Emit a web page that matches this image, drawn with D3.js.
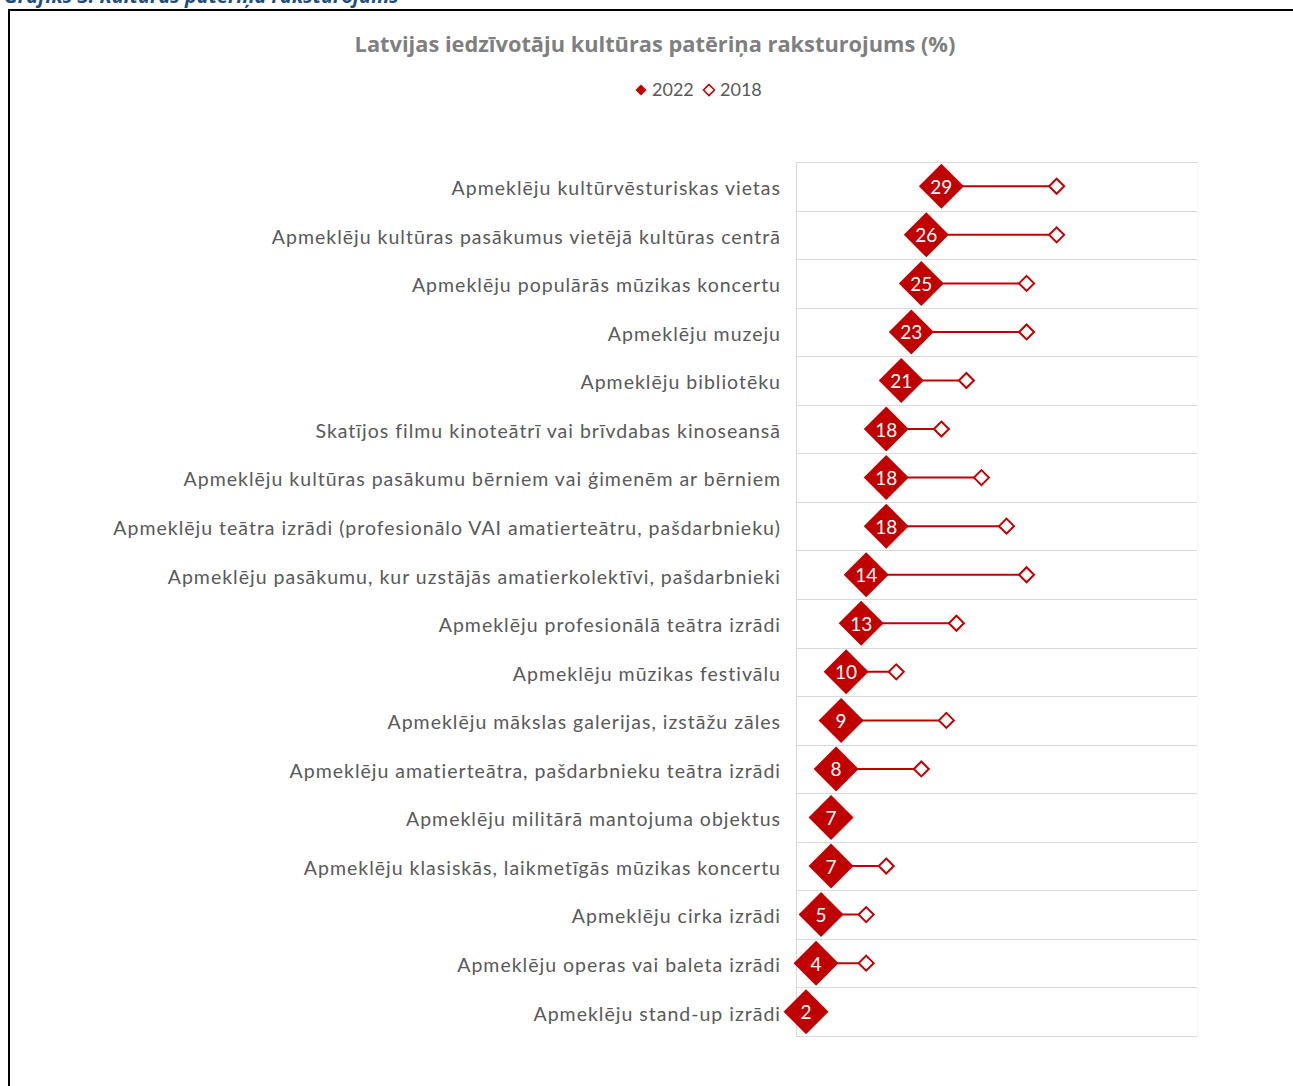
<!DOCTYPE html>
<html>
<head>
<meta charset="utf-8">
<script src="https://cdn.jsdelivr.net/npm/d3@7"></script>
<style>
  body { margin: 0; background: #fff; }
  svg { display: block; }
</style>
</head>
<body>
<div id="chart"></div>
<script>
let categories = [
    "Apmeklēju kultūrvēsturiskas vietas",
    "Apmeklēju kultūras pasākumus vietējā kultūras centrā",
    "Apmeklēju populārās mūzikas koncertu",
    "Apmeklēju muzeju",
    "Apmeklēju bibliotēku",
    "Skatījos filmu kinoteātrī vai brīvdabas kinoseansā",
    "Apmeklēju kultūras pasākumu bērniem vai ģimenēm ar bērniem",
    "Apmeklēju teātra izrādi (profesionālo VAI amatierteātru, pašdarbnieku)",
    "Apmeklēju pasākumu, kur uzstājās amatierkolektīvi, pašdarbnieki",
    "Apmeklēju profesionālā teātra izrādi",
    "Apmeklēju mūzikas festivālu",
    "Apmeklēju mākslas galerijas, izstāžu zāles",
    "Apmeklēju amatierteātra, pašdarbnieku teātra izrādi",
    "Apmeklēju militārā mantojuma objektus",
    "Apmeklēju klasiskās, laikmetīgās mūzikas koncertu",
    "Apmeklēju cirka izrādi",
    "Apmeklēju operas vai baleta izrādi",
    "Apmeklēju stand-up izrādi"
];
let values2022 = [29, 26, 25, 23, 21, 18, 18, 18, 14, 13, 10, 9, 8, 7, 7, 5, 4, 2];
let values2018 = [52, 52, 46, 46, 34, 29, 37, 42, 46, 32, 20, 30, 25, null, 18, 14, 14, null];
let seriesNames = ["2022", "2018"];

let red = "#c00000";
let width = 1293, height = 1086;

let svg = d3.select("#chart").append("svg")
    .attr("width", width)
    .attr("height", height);

// report caption, cut off by the top edge
svg.append("text")
    .attr("x", 4).attr("y", 3)
    .attr("font-family", "Open Sans, sans-serif")
    .attr("font-size", 20).attr("font-weight", "bold").attr("font-style", "italic")
    .attr("fill", "#1f4e79")
    .text("Grafiks 3. Kultūras patēriņa raksturojums");

// frame
svg.append("path")
    .attr("d", "M9," + height + " V10 H" + width)
    .attr("fill", "none").attr("stroke", "#000").attr("stroke-width", 2);

svg.append("text")
    .attr("x", 655).attr("y", 52)
    .attr("text-anchor", "middle")
    .attr("font-family", "Open Sans, sans-serif")
    .attr("font-size", 21.8).attr("font-weight", "bold")
    .attr("fill", "#7f7f7f")
    .text("Latvijas iedzīvotāju kultūras patēriņa raksturojums (%)");

// legend
let legend = svg.append("g").attr("font-family", "Lato, sans-serif").attr("font-size", 18).attr("fill", "#595959");
let diamond = r => "M0," + (-r) + "L" + r + ",0L0," + r + "L" + (-r) + ",0Z";
legend.append("path").attr("d", diamond(5.5)).attr("transform", "translate(641,90)").attr("fill", red);
legend.append("text").attr("x", 652).attr("y", 96).text(seriesNames[0]);
legend.append("path").attr("d", diamond(5.5)).attr("transform", "translate(709,90)")
    .attr("fill", "#fff").attr("stroke", red).attr("stroke-width", 1.6);
legend.append("text").attr("x", 720).attr("y", 96).text(seriesNames[1]);

let x = d3.scaleLinear().domain([0, 80]).range([796, 1197]);
let y = d3.scaleBand().domain(categories).range([162, 1036]);

// grid
let grid = svg.append("g").attr("stroke", "#d9d9d9").attr("stroke-width", 1);
let edges = categories.map(c => y(c)).concat([y.range()[1]]);
grid.selectAll("line.h").data(edges).enter().append("line")
    .attr("x1", x.range()[0]).attr("x2", x.range()[1])
    .attr("y1", d => Math.round(d) + 0.5).attr("y2", d => Math.round(d) + 0.5);
grid.append("line").attr("x1", 796.5).attr("x2", 796.5).attr("y1", 162).attr("y2", 1036);
grid.append("line").attr("x1", 1197.5).attr("x2", 1197.5).attr("y1", 162).attr("y2", 1036)
    .attr("stroke", "#ececec").attr("stroke-dasharray", "1,1");

// category labels
let yAxis = d3.axisLeft(y).tickSize(0).tickPadding(15);
let ax = svg.append("g").attr("transform", "translate(796,0)").call(yAxis);
ax.select(".domain").remove();
ax.selectAll("text")
    .attr("font-family", "Lato, sans-serif")
    .attr("font-size", 19.5)
    .attr("letter-spacing", 1.0)
    .attr("dy", "0.45em")
    .attr("fill", "#595959");

let rows = categories.map((c, i) => ({ cat: c, v22: values2022[i], v18: values2018[i] }));
let cy = d => y(d.cat) + y.bandwidth() / 2;

let g = svg.append("g");
g.selectAll("line.conn").data(rows.filter(d => d.v18 != null)).enter().append("line")
    .attr("x1", d => x(d.v22)).attr("x2", d => x(d.v18))
    .attr("y1", cy).attr("y2", cy)
    .attr("stroke", red).attr("stroke-width", 2);

g.selectAll("path.p18").data(rows.filter(d => d.v18 != null)).enter().append("path")
    .attr("d", diamond(7.5))
    .attr("transform", d => "translate(" + x(d.v18) + "," + cy(d) + ")")
    .attr("fill", "#fff").attr("stroke", red).attr("stroke-width", 2);

g.selectAll("path.p22").data(rows).enter().append("path")
    .attr("d", diamond(22.5))
    .attr("transform", d => "translate(" + x(d.v22) + "," + cy(d) + ")")
    .attr("fill", red);

g.selectAll("text.lbl").data(rows).enter().append("text")
    .attr("x", d => x(d.v22)).attr("y", d => cy(d) + 7.5)
    .attr("text-anchor", "middle")
    .attr("font-family", "Lato, sans-serif")
    .attr("font-size", 19)
    .attr("fill", "#fff")
    .text(d => d.v22);
</script>
</body>
</html>
